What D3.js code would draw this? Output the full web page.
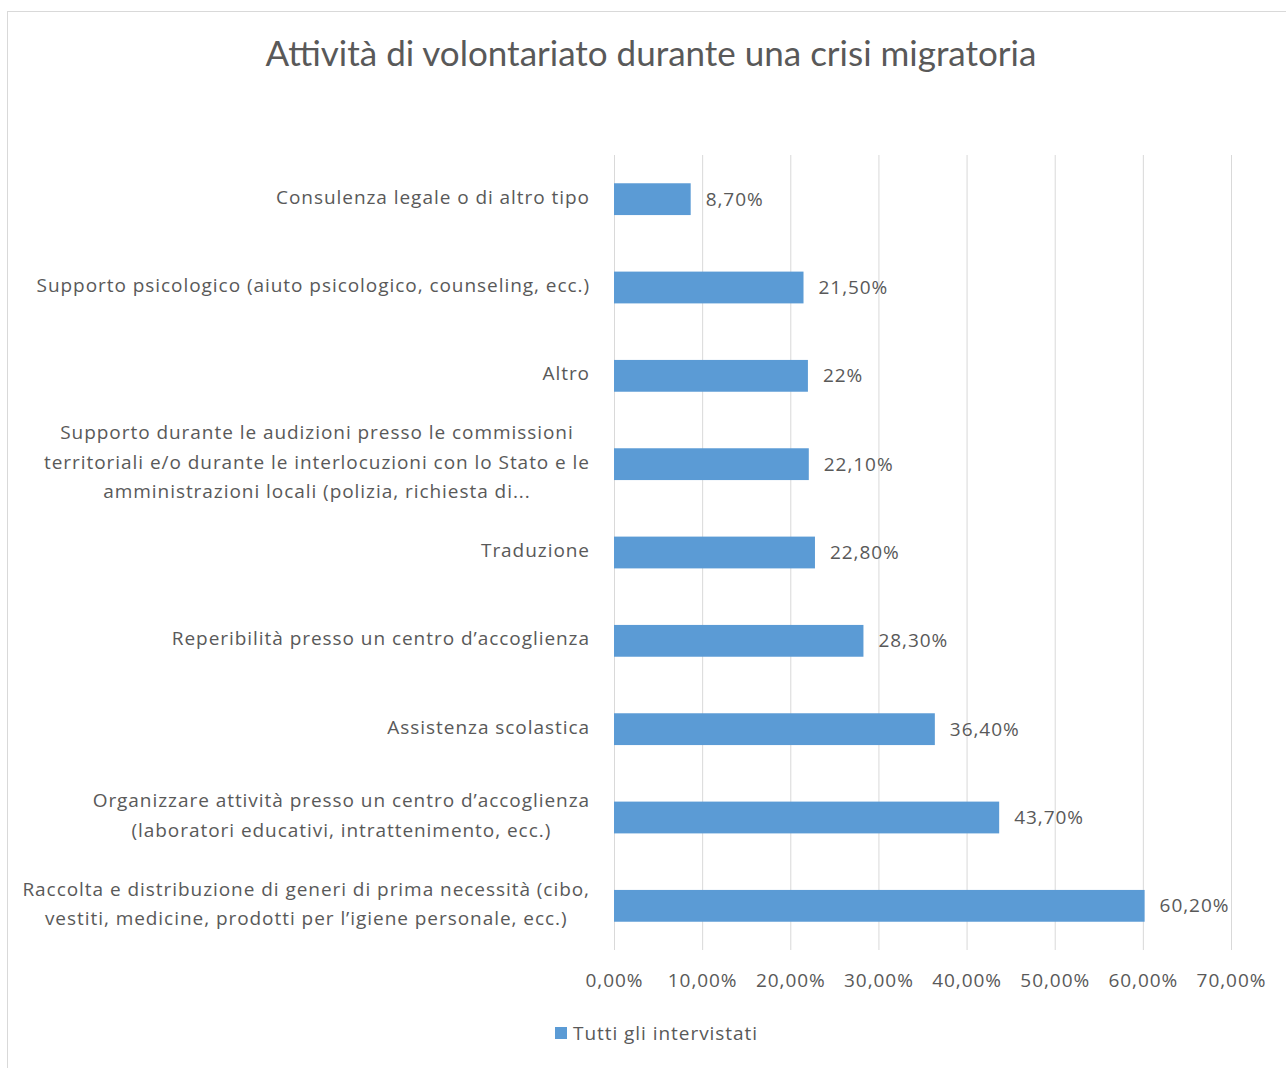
<!DOCTYPE html>
<html>
<head>
<meta charset="utf-8">
<script src="https://cdn.jsdelivr.net/npm/d3@7"></script>
<style>
  body { margin: 0; background: #fff; }
  text { font-family: "Open Sans", sans-serif; fill: #595959; }
</style>
</head>
<body>
<svg id="chart" width="1286" height="1068"></svg>
<script>
// categories, top to bottom (each entry = label lines)
var categories = [
  ["Consulenza legale o di altro tipo"],
  ["Supporto psicologico (aiuto psicologico, counseling, ecc.)"],
  ["Altro"],
  ["Supporto durante le audizioni presso le commissioni", "territoriali e/o durante le interlocuzioni con lo Stato e le", "amministrazioni locali (polizia, richiesta di..."],
  ["Traduzione"],
  ["Reperibilità presso un centro d\u2019accoglienza"],
  ["Assistenza scolastica"],
  ["Organizzare attività presso un centro d\u2019accoglienza", "(laboratori educativi, intrattenimento, ecc.)"],
  ["Raccolta e distribuzione di generi di prima necessità (cibo,", "vestiti, medicine, prodotti per l\u2019igiene personale, ecc.)"]
];
var values = [8.7, 21.5, 22, 22.1, 22.8, 28.3, 36.4, 43.7, 60.2];
var valueLabels = ["8,70%", "21,50%", "22%", "22,10%", "22,80%", "28,30%", "36,40%", "43,70%", "60,20%"];
var ticks = [0, 10, 20, 30, 40, 50, 60, 70];
var seriesName = "Tutti gli intervistati";
var title = "Attività di volontariato durante una crisi migratoria";

var svg = d3.select("#chart");
var barColor = "#5b9bd5";
var fs = "19px";
var ls = "0.95px";

// chart border
svg.append("rect")
  .attr("x", 7.5).attr("y", 11.5)
  .attr("width", 1290).attr("height", 1070)
  .attr("fill", "none").attr("stroke", "#d9d9d9");

svg.append("text")
  .attr("x", 651).attr("y", 66)
  .attr("text-anchor", "middle")
  .style("font-family", "Lato, sans-serif")
  .style("font-size", "35px")
  .text(title);

var x = d3.scaleLinear().domain([0, 70]).range([614, 1231]);
var y = d3.scaleBand()
  .domain(d3.range(categories.length))
  .range([155, 950])
  .paddingInner(0.64).paddingOuter(0.32);

// gridlines
svg.append("g").selectAll("line")
  .data(ticks).enter().append("line")
  .attr("x1", d => x(d) + 0.5).attr("x2", d => x(d) + 0.5)
  .attr("y1", 155).attr("y2", 950)
  .attr("stroke", "#d9d9d9").attr("stroke-width", 1);

// x tick labels
var xAxis = svg.append("g")
  .attr("transform", "translate(0,950)")
  .call(d3.axisBottom(x).tickValues(ticks).tickSize(0).tickPadding(24)
    .tickFormat(d => d.toFixed(2).replace(".", ",") + "%"));
xAxis.select(".domain").remove();
xAxis.selectAll("text")
  .style("font-family", "'Open Sans', sans-serif")
  .style("font-size", fs)
  .style("letter-spacing", ls)
  .attr("fill", "#595959");

// bars
svg.append("g").selectAll("rect")
  .data(values).enter().append("rect")
  .attr("x", x(0))
  .attr("y", (d, i) => y(i))
  .attr("width", d => x(d) - x(0))
  .attr("height", y.bandwidth())
  .attr("fill", barColor);

// value labels
svg.append("g").selectAll("text")
  .data(values).enter().append("text")
  .attr("x", d => x(d) + 15)
  .attr("y", (d, i) => y(i) + y.bandwidth() / 2)
  .attr("dy", "0.35em")
  .style("font-size", fs)
  .style("letter-spacing", ls)
  .text((d, i) => valueLabels[i]);

// category labels: block right-aligned, lines centred within block
var lineH = 29.5;
var catG = svg.append("g");
categories.forEach(function(lines, i) {
  var g = catG.append("g");
  var cy = y(i) + y.bandwidth() / 2;
  var texts = lines.map(function(l, j) {
    return g.append("text")
      .attr("y", cy + (j - (lines.length - 1) / 2) * lineH - 2)
      .attr("dy", "0.35em")
      .attr("text-anchor", "middle")
      .style("font-size", fs)
      .style("letter-spacing", ls)
      .text(l);
  });
  var w = d3.max(texts, t => t.node().getComputedTextLength());
  texts.forEach(t => t.attr("x", 590 - w / 2));
});

// legend
svg.append("rect")
  .attr("x", 555).attr("y", 1027)
  .attr("width", 12).attr("height", 12)
  .attr("fill", barColor);
svg.append("text")
  .attr("x", 573).attr("y", 1033)
  .attr("dy", "0.35em")
  .style("font-size", fs)
  .style("letter-spacing", ls)
  .text(seriesName);
</script>
</body>
</html>
